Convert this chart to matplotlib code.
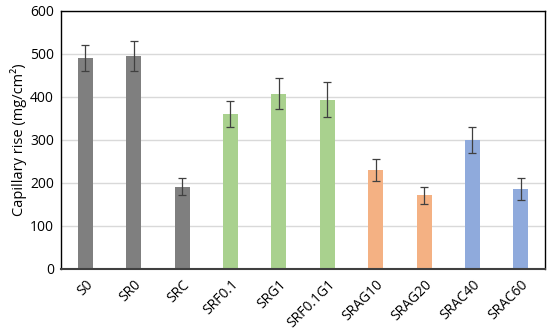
import numpy as np
import matplotlib.pyplot as plt

plt.rcParams['font.family'] = ['Open Sans', 'DejaVu Sans']

samples = ["S0", "SR0", "SRC", "SRF0.1", "SRG1", "SRF0.1G1",
           "SRAG10", "SRAG20", "SRAC40", "SRAC60"]
rise = [490, 496, 191, 360, 408, 394, 230, 171, 300, 186]
err = [30, 35, 20, 30, 35, 40, 25, 20, 30, 25]
colors = ["#7f7f7f"] * 3 + ["#a9d18e"] * 3 + ["#f4b183"] * 2 + ["#8faadc"] * 2

fig = plt.figure(figsize=(5.5, 3.32), dpi=100)
ax = fig.add_axes([0.111, 0.19, 0.88, 0.777])

x = np.arange(len(samples))
ax.bar(x, rise, width=0.31, color=colors, zorder=2,
       yerr=err, error_kw=dict(ecolor="#404040", elinewidth=0.9, capsize=3, capthick=0.9))

ax.set_xlim(-0.5, len(samples) - 0.5)
ax.set_ylim(0, 600)
ax.set_yticks(range(0, 601, 100))
ax.yaxis.grid(True, color="#d9d9d9", linewidth=1, zorder=0)
ax.set_axisbelow(True)
ax.tick_params(axis="both", length=0, labelsize=10, colors="black")
ax.tick_params(axis="y", pad=5)
ax.tick_params(axis="x", pad=6)
ax.set_xticks(x)
ax.set_xticklabels(samples, rotation=45, ha="right", rotation_mode="anchor")
ax.set_ylabel("Capillary rise (mg/cm²)", fontsize=10.5, labelpad=2)

for s in ["top", "right", "left"]:
    ax.spines[s].set_color("black")
    ax.spines[s].set_linewidth(1)
ax.spines["bottom"].set_color("#404040")
ax.spines["bottom"].set_linewidth(1.5)

fig.savefig("out.png", dpi=100)
